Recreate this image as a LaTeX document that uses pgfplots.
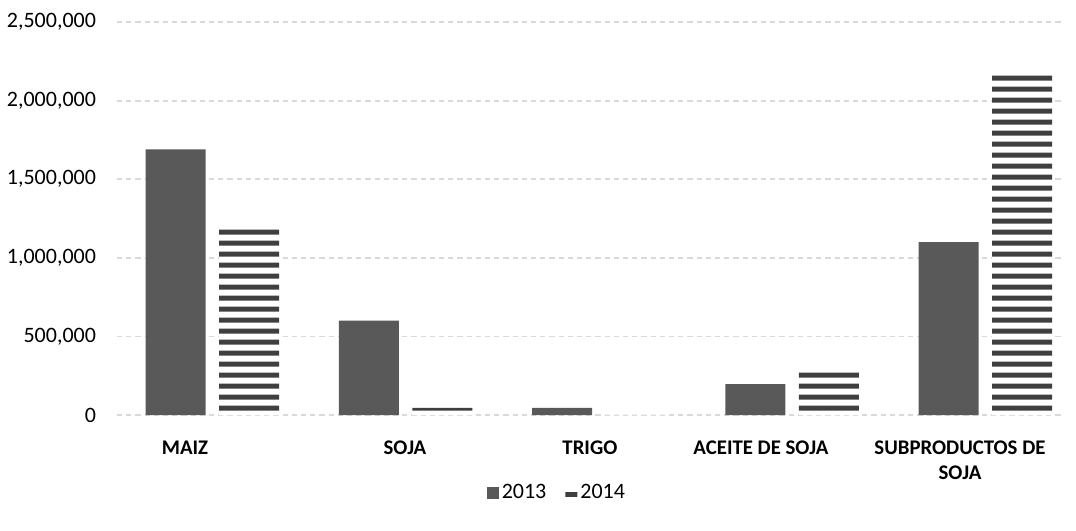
\documentclass[border=0pt]{standalone}
\usepackage{pgfplots}
\pgfplotsset{compat=1.18}
\usepackage{fontspec}
\setmainfont{Carlito}
\usetikzlibrary{patterns}
\definecolor{bardark}{HTML}{595959}
\definecolor{stripe}{HTML}{3F3F3F}
\definecolor{gridc}{HTML}{D9D9D9}
\pgfdeclarepatternformonly{hstripes}{\pgfpoint{0pt}{0pt}}{\pgfpoint{400pt}{5.4pt}}{\pgfpoint{400pt}{5.4pt}}{%
  \pgfpathrectangle{\pgfpoint{-1pt}{0.15pt}}{\pgfpoint{402pt}{2.6pt}}\pgfusepath{fill}}
\begin{document}
\begin{tikzpicture}
\useasboundingbox (-58.5pt,-57.5pt) rectangle (479.5pt,207.5pt);
\begin{axis}[
  scale only axis,
  width=472.5pt, height=196.5pt,
  ybar=6.75pt, bar width=30pt,
  xmin=-0.494, xmax=4.396,
  ymin=0, ymax=2500000,
  xtick={-0.142,0.996,1.953,2.838,3.868},
  xticklabels={MAIZ,SOJA,TRIGO,ACEITE DE SOJA,{SUBPRODUCTOS DE\\SOJA}},
  xticklabel style={align=center,font=\fontsize{10.4}{12.4}\selectfont\bfseries,yshift=-5pt},
  ytick={0,500000,1000000,1500000,2000000,2500000},
  scaled y ticks=false,
  yticklabel style={/pgf/number format/fixed,/pgf/number format/1000 sep={,},/pgf/number format/assume math mode=true,font=\fontsize{11}{13}\selectfont,xshift=-7pt},
  axis line style={draw=none},
  tick style={draw=none},
  ymajorgrids,
  major grid style={gridc,dash pattern=on 2.6pt off 2pt,line width=0.9pt},
  legend style={at={(axis description cs:0.466,-0.198)},anchor=center,draw=none,legend columns=2,font=\fontsize{11}{13}\selectfont,
     /tikz/every even column/.append style={column sep=8pt},
     nodes={inner xsep=1.5pt}},
  legend image code/.code={\draw[#1,draw=none] (0pt,-3pt) rectangle (6pt,3pt);},
]
\addplot[fill=bardark,draw=none] coordinates {(0,1690000) (1,600000) (2,45000) (3,197000) (4,1100000)};
\addplot[draw=none,fill=white,postaction={pattern=hstripes,pattern color=stripe}] coordinates {(0,1205000) (1,45000) (2,4000) (3,274000) (4,2182000)};
\legend{2013,2014}
\end{axis}
\end{tikzpicture}
\end{document}
